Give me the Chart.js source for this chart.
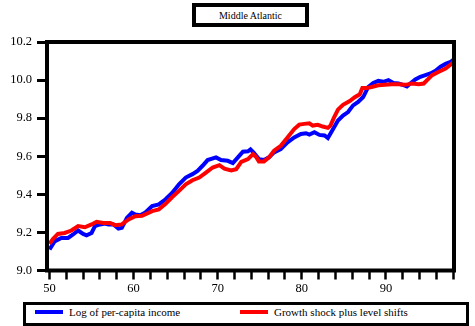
<!DOCTYPE html>
<html>
<head>
<meta charset="utf-8">
<title>Middle Atlantic</title>
<script src="https://cdn.jsdelivr.net/npm/chart.js@4"></script>
<style>
  html, body { margin: 0; padding: 0; background: #fff; }
  #wrap { position: relative; width: 475px; height: 326px; overflow: hidden; }
  #chart { position: absolute; left: 0; top: 0; }
  .title {
    position: absolute; left: 192px; top: 3px; width: 117px; height: 24px;
    border: 4px solid #000; box-sizing: border-box; background: #fff;
    font: 10px "Liberation Serif", "Times New Roman", serif; color: #000;
    display: flex; align-items: center; justify-content: center;
  }
  .legend {
    position: absolute; left: 23px; top: 302px; width: 446px; height: 24px;
    border: 3px solid #000; box-sizing: border-box; background: #fff;
    font: 11px "Liberation Serif", "Times New Roman", serif; color: #000;
  }
  .item { position: absolute; top: -2px; height: 18px; display: flex; align-items: center; white-space: nowrap; }
  .swatch { display: inline-block; width: 28px; height: 4px; margin-right: 6px; }
</style>
</head>
<body>
<div id="wrap">
  <canvas id="chart" width="475" height="326"></canvas>
  <div class="title">Middle Atlantic</div>
  <div class="legend" id="legend"></div>
</div>
<script>
// Series names, colours for the legend
const seriesNames = ['Log of per-capita income', 'Growth shock plus level shifts'];

// Log of per-capita income (year, value)
const incomeYears = [50.0,50.6,51.4,52.2,52.8,53.4,54.0,54.4,55.0,55.4,56.0,56.6,57.0,57.6,58.2,58.6,59.2,59.8,60.2,60.8,61.4,62.2,63.0,63.8,64.6,65.4,66.2,67.0,67.6,68.2,68.8,69.8,70.4,71.2,71.8,72.4,73.0,73.6,73.9,74.3,74.9,75.5,76.1,76.7,77.5,78.3,79.1,79.9,80.5,80.9,81.5,82.1,82.7,83.1,83.5,84.3,84.9,85.5,86.1,86.7,87.3,87.9,88.5,89.1,89.7,90.3,90.9,91.5,92.1,92.5,92.9,93.5,94.1,94.7,95.3,95.9,96.5,97.1,97.7,98.1];
const incomeValues = [9.11,9.153,9.171,9.171,9.189,9.21,9.192,9.185,9.197,9.233,9.242,9.247,9.242,9.242,9.22,9.224,9.276,9.303,9.294,9.29,9.305,9.338,9.347,9.374,9.408,9.453,9.488,9.506,9.523,9.55,9.58,9.594,9.58,9.576,9.564,9.594,9.624,9.626,9.636,9.618,9.585,9.58,9.594,9.62,9.638,9.673,9.699,9.717,9.721,9.714,9.726,9.712,9.709,9.696,9.726,9.788,9.814,9.832,9.867,9.885,9.911,9.964,9.985,9.996,9.991,10.0,9.985,9.982,9.973,9.967,9.982,10.003,10.017,10.026,10.035,10.049,10.07,10.085,10.096,10.109];

// Growth shock plus level shifts (year, value)
const shockYears = [50.0,50.4,51.0,51.8,52.6,53.4,54.2,55.0,55.6,56.4,57.2,57.8,58.6,59.4,60.2,61.0,62.2,63.0,63.8,64.6,65.4,66.2,67.0,67.8,68.6,69.4,70.2,70.8,71.6,72.2,72.8,73.6,74.2,74.6,74.9,75.5,76.1,76.7,77.5,78.3,79.1,79.7,80.3,80.9,81.3,81.9,82.5,83.1,83.4,83.8,84.3,84.9,85.7,86.3,86.9,87.2,87.7,88.3,89.1,89.9,90.7,91.5,92.3,93.1,93.9,94.5,94.9,95.5,96.3,97.1,97.9,98.1];
const shockValues = [9.14,9.165,9.192,9.197,9.21,9.233,9.227,9.242,9.256,9.25,9.25,9.238,9.242,9.268,9.285,9.287,9.312,9.321,9.35,9.386,9.418,9.453,9.474,9.488,9.514,9.541,9.553,9.535,9.525,9.532,9.57,9.585,9.611,9.594,9.573,9.573,9.594,9.629,9.655,9.699,9.743,9.766,9.77,9.773,9.761,9.765,9.756,9.749,9.76,9.8,9.845,9.87,9.89,9.91,9.925,9.958,9.958,9.964,9.973,9.976,9.978,9.978,9.975,9.982,9.978,9.982,10.0,10.026,10.044,10.061,10.088,10.096];

// Axis labels
const xTickLabels = ['50', '60', '70', '80', '90'];
const yTickLabels = ['9.0', '9.2', '9.4', '9.6', '9.8', '10.0', '10.2'];

const colors = ['#0000ff', '#ff0000'];
const serif = '"Liberation Serif", "Times New Roman", serif';

const toPoints = (xs, ys) => xs.map((x, i) => ({ x: x, y: ys[i] }));

// Legend built from the series names and colours
const legendEl = document.getElementById('legend');
[9, 214].forEach((left, i) => {
  const item = document.createElement('div');
  item.className = 'item';
  item.style.left = left + 'px';
  const sw = document.createElement('span');
  sw.className = 'swatch';
  sw.style.background = colors[i];
  item.appendChild(sw);
  item.appendChild(document.createTextNode(seriesNames[i]));
  legendEl.appendChild(item);
});

// Heavy box around the plotting area
const framePlugin = {
  id: 'frame',
  afterDatasetsDraw(chart) {
    const { ctx, chartArea: a } = chart;
    ctx.save();
    ctx.lineWidth = 4;
    ctx.strokeStyle = '#000';
    ctx.strokeRect(a.left, a.top, a.right - a.left, a.bottom - a.top);
    ctx.restore();
  }
};

new Chart(document.getElementById('chart'), {
  type: 'line',
  data: {
    datasets: [
      { label: seriesNames[0], data: toPoints(incomeYears, incomeValues), borderColor: colors[0],
        borderWidth: 4, pointRadius: 0, tension: 0, fill: false, order: 1 },
      { label: seriesNames[1], data: toPoints(shockYears, shockValues), borderColor: colors[1],
        borderWidth: 4, pointRadius: 0, tension: 0, fill: false, order: 0 }
    ]
  },
  options: {
    responsive: false,
    animation: false,
    events: [],
    layout: { padding: { left: 0, top: 42, right: 21, bottom: 0 } },
    plugins: { legend: { display: false }, tooltip: { enabled: false }, title: { display: false } },
    scales: {
      x: {
        type: 'linear', min: 49.7, max: 98.1,
        afterFit(s) { s.height = 55.5; },
        border: { display: false },
        grid: { drawOnChartArea: false, drawTicks: true, tickLength: 9, tickWidth: 2.5, tickColor: '#000' },
        ticks: {
          stepSize: 2, includeBounds: false, autoSkip: false, maxRotation: 0, padding: 2,
          color: '#000', font: { family: serif, size: 12.5 },
          callback: v => (xTickLabels.includes(String(v)) ? String(v) : '')
        }
      },
      y: {
        type: 'linear', min: 9.0, max: 10.2,
        afterFit(s) { s.width = 47; },
        border: { display: false },
        grid: { drawOnChartArea: false, drawTicks: true, tickLength: 10, tickWidth: 3, tickColor: '#000' },
        ticks: {
          stepSize: 0.2, padding: 5, color: '#000', font: { family: serif, size: 12.5 },
          callback: v => {
            const s = Number(v).toFixed(1);
            return yTickLabels.includes(s) ? s : '';
          }
        }
      }
    }
  },
  plugins: [framePlugin]
});
</script>
</body>
</html>
